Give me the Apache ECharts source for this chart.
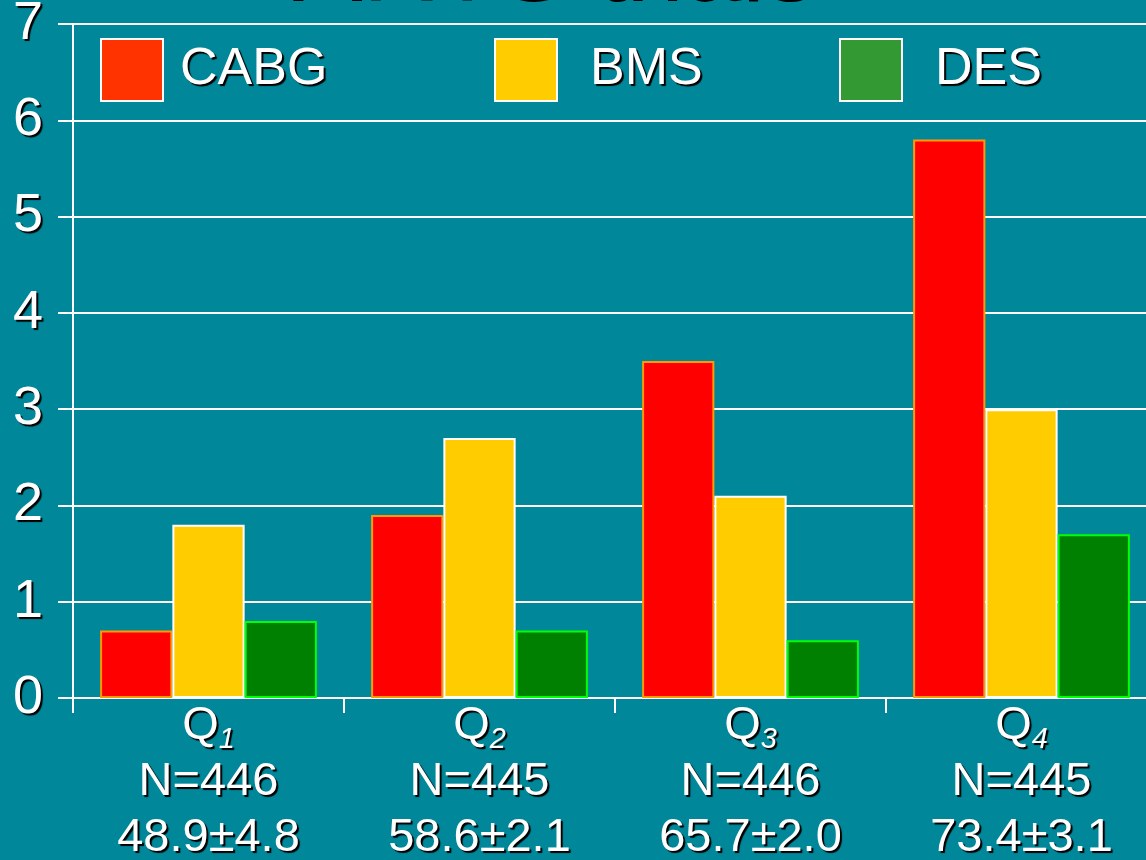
<!DOCTYPE html>
<html>
<head>
<meta charset="utf-8">
<script src="https://cdn.jsdelivr.net/npm/echarts@6/dist/echarts.min.js"></script>
<style>
html,body{margin:0;padding:0;background:#00889A;}
#c{width:1146px;height:860px;}
</style>
</head>
<body>
<div id="c"></div>
<script>
const categories = ['Q1', 'Q2', 'Q3', 'Q4'];
const quartileSubs = ['1', '2', '3', '4'];
const nCounts = ['N=446', 'N=445', 'N=446', 'N=445'];
const ageRanges = ['48.9±4.8', '58.6±2.1', '65.7±2.0', '73.4±3.1'];
const seriesNames = ['CABG', 'BMS', 'DES'];
const cabgValues = [0.7, 1.9, 3.5, 5.8];
const bmsValues = [1.8, 2.7, 2.1, 3.0];
const desValues = [0.8, 0.7, 0.6, 1.7];
const titleText = 'ARTS trials';

const FONT = 'Arial, "Liberation Sans", sans-serif';
const shadow = { textShadowColor: '#000', textShadowOffsetX: 2, textShadowOffsetY: 2, textShadowBlur: 1 };

const chart = echarts.init(document.getElementById('c'), null, { renderer: 'canvas' });

function legendAt(left, name, color, textGap) {
  return {
    left: left, top: 38, orient: 'horizontal', padding: 0,
    itemWidth: 62, itemHeight: 62, icon: 'rect',
    selectedMode: false,
    data: [{ name: name, itemStyle: { color: color, borderColor: '#ffffff', borderWidth: 2 } }],
    textStyle: Object.assign({ color: '#fff', fontSize: 52, fontFamily: FONT, padding: [0, 0, 0, textGap] }, shadow)
  };
}

const option = {
  backgroundColor: '#00889A',
  animation: false,
  graphic: [{
    type: 'text', x: 555, y: 24,
    style: { text: titleText, fontSize: 104, fontFamily: FONT, fill: '#000', align: 'center', verticalAlign: 'bottom' }
  }],
  legend: [
    legendAt(100, seriesNames[0], '#FF3300', 12),
    legendAt(494, seriesNames[1], '#FFCC00', 28),
    legendAt(839, seriesNames[2], '#339933', 28)
  ],
  grid: { left: 73, top: 24, width: 1084, height: 674, containLabel: false, outerBoundsMode: 'none' },
  xAxis: {
    type: 'category', data: categories,
    axisLine: { show: true, lineStyle: { color: '#fff', width: 2 } },
    axisTick: { show: true, length: 15, lineStyle: { color: '#fff', width: 2 } },
    axisLabel: {
      interval: 0, margin: 0, color: '#fff', fontFamily: FONT, fontSize: 47, lineHeight: 56,
      formatter: function (v, i) {
        return '{q|Q}{s|' + quartileSubs[i] + '}\n{n|' + nCounts[i] + '}\n{n|' + ageRanges[i] + '}';
      },
      rich: {
        q: Object.assign({ color: '#fff', fontFamily: FONT, fontSize: 47, lineHeight: 56 }, shadow),
        s: Object.assign({ color: '#fff', fontFamily: FONT, fontSize: 29, fontStyle: 'italic', verticalAlign: 'bottom', lineHeight: 14 }, shadow),
        n: Object.assign({ color: '#fff', fontFamily: FONT, fontSize: 47, lineHeight: 56 }, shadow)
      }
    }
  },
  yAxis: {
    type: 'value', min: 0, max: 7, interval: 1,
    axisLine: { show: true, lineStyle: { color: '#fff', width: 2 } },
    axisTick: { show: true, length: 15, lineStyle: { color: '#fff', width: 2 } },
    splitLine: { show: true, lineStyle: { color: '#fff', width: 2 } },
    axisLabel: Object.assign({ color: '#fff', fontFamily: FONT, fontSize: 54, margin: 30, padding: [12, 0, 0, 0] }, shadow)
  },
  series: [
    { name: seriesNames[0], type: 'bar', data: cabgValues, barGap: '0%', barCategoryGap: '20%',
      itemStyle: { color: '#FF0000', borderColor: '#FF9900', borderWidth: 2 } },
    { name: seriesNames[1], type: 'bar', data: bmsValues, barGap: '0%', barCategoryGap: '20%',
      itemStyle: { color: '#FFCC00', borderColor: '#FFFFFF', borderWidth: 2 } },
    { name: seriesNames[2], type: 'bar', data: desValues, barGap: '0%', barCategoryGap: '20%',
      itemStyle: { color: '#008000', borderColor: '#00FF00', borderWidth: 2 } }
  ]
};
chart.setOption(option);
</script>
</body>
</html>
